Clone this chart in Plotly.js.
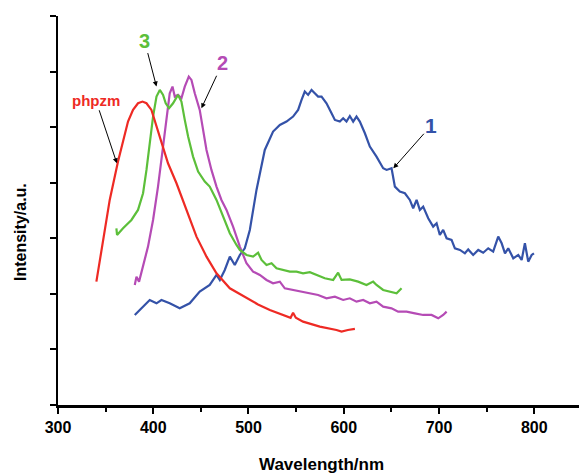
<!DOCTYPE html>
<html>
<head>
<meta charset="utf-8">
<script src="https://cdn.plot.ly/plotly-3.0.1.min.js"></script>
<style>html,body{margin:0;padding:0;background:#fff;}#chart{width:579px;height:475px;}</style>
</head>
<body>
<div id="chart"></div>
<script>
// phpzm (red)
const phpzmX = [340.3,347.3,354.3,363.0,368.3,373.5,378.8,384.0,388.7,392.9,398.1,403.4,408.6,415.5,424.4,434.9,445.4,455.9,466.4,480.4,497.9,510.0,522.4,539.9,544.2,546.8,549.7,557.3,574.9,592.4,597.7,604.3,611.7];
const phpzmY = [2.22,2.97,3.69,4.38,4.77,5.10,5.31,5.43,5.46,5.43,5.31,5.01,4.71,4.35,3.99,3.51,3.03,2.67,2.37,2.10,1.92,1.81,1.71,1.59,1.57,1.66,1.57,1.50,1.41,1.35,1.32,1.35,1.37];
// curve 3 (green)
const c3X = [361.3,362.0,368.3,377.1,384.0,389.3,392.9,396.3,399.8,403.4,406.9,410.3,413.1,416.6,420.8,426.0,429.6,433.1,436.6,441.8,447.1,454.1,459.3,466.4,473.3,480.4,487.4,490.9,497.9,504.8,510.1,513.7,518.9,524.2,529.4,536.3,543.4,550.4,557.3,564.4,571.4,580.1,588.9,594.1,597.7,606.4,615.1,623.9,630.9,634.4,641.4,650.2,655.5,660.7];
const c3Y = [3.18,3.06,3.18,3.33,3.51,3.81,4.23,4.71,5.19,5.55,5.67,5.58,5.43,5.34,5.43,5.58,5.46,5.13,4.83,4.47,4.20,4.02,3.93,3.69,3.39,3.09,2.88,2.79,2.70,2.67,2.74,2.61,2.52,2.55,2.46,2.43,2.40,2.40,2.37,2.39,2.34,2.28,2.25,2.38,2.25,2.26,2.22,2.16,2.22,2.16,2.07,2.04,2.01,2.10];
// curve 2 (magenta)
const c2X = [380.6,382.4,385.1,389.3,394.5,399.8,405.0,410.3,414.5,417.3,420.2,422.6,426.0,429.6,433.1,437.3,440.1,443.6,448.8,452.3,455.9,461.1,466.4,471.6,476.9,483.8,490.9,497.9,504.8,511.9,518.9,525.8,532.9,538.1,546.8,555.7,564.4,573.1,581.9,590.7,599.4,606.4,613.4,620.4,627.4,634.4,641.4,650.2,657.1,666.0,674.7,683.4,692.2,699.2,704.4,708.0];
const c2Y = [2.16,2.31,2.22,2.49,2.85,3.33,3.93,4.65,5.25,5.61,5.73,5.55,5.58,5.52,5.73,5.91,5.85,5.61,5.31,4.95,4.59,4.23,3.93,3.69,3.51,3.21,2.85,2.55,2.40,2.34,2.25,2.19,2.22,2.10,2.07,2.04,2.01,1.98,1.92,1.95,1.89,1.92,1.86,1.89,1.83,1.86,1.77,1.74,1.68,1.68,1.65,1.62,1.62,1.56,1.62,1.68];
// curve 1 (blue)
const c1X = [380.6,385.8,396.3,403.4,408.6,417.3,427.8,438.3,448.8,459.3,466.4,469.9,475.1,480.4,485.6,490.9,496.1,501.4,508.4,517.1,525.8,532.9,539.9,546.8,552.1,555.7,559.1,562.6,566.2,569.6,573.1,576.7,581.9,587.2,590.7,595.9,599.4,602.9,606.4,609.9,613.4,616.9,622.2,627.4,634.4,641.4,645.0,650.2,653.7,658.9,664.2,669.4,672.9,676.5,679.9,683.4,688.7,693.9,697.5,700.9,704.4,708.0,713.2,716.7,722.0,727.2,730.7,735.9,741.2,746.4,751.7,756.9,762.2,765.8,769.3,772.7,778.0,783.2,786.8,790.2,793.7,797.3,799.7];
const c1Y = [1.62,1.71,1.89,1.83,1.89,1.83,1.74,1.83,2.04,2.16,2.34,2.25,2.43,2.67,2.52,2.70,2.82,3.15,3.87,4.59,4.92,5.04,5.10,5.19,5.31,5.49,5.64,5.58,5.67,5.61,5.55,5.55,5.43,5.25,5.13,5.10,5.16,5.10,5.20,5.10,5.19,5.10,4.89,4.65,4.47,4.26,4.23,4.26,3.93,3.84,3.81,3.69,3.54,3.69,3.51,3.57,3.36,3.21,3.27,3.06,3.15,3.00,2.97,2.82,2.79,2.73,2.80,2.70,2.79,2.74,2.82,2.76,3.03,2.91,2.73,2.82,2.64,2.70,2.61,2.91,2.58,2.70,2.73];

const xTickVals = [300,400,500,600,700,800];
const xTickText = ['300','400','500','600','700','800'];

const colors = {red:'#ee2a24', green:'#5cbf3a', magenta:'#b54bb5', blue:'#3452a8'};
const lw = 2.2;

const traces = [
  {x:c1X, y:c1Y, mode:'lines', line:{color:colors.blue, width:lw}},
  {x:c2X, y:c2Y, mode:'lines', line:{color:colors.magenta, width:lw}},
  {x:c3X, y:c3Y, mode:'lines', line:{color:colors.green, width:lw}},
  {x:phpzmX, y:phpzmY, mode:'lines', line:{color:colors.red, width:lw}}
];

const F = 'Liberation Sans, Arial, sans-serif';
const arrowBase = {showarrow:true, arrowhead:2, arrowsize:1, arrowwidth:1, arrowcolor:'#000', xref:'x', yref:'y', axref:'pixel', ayref:'pixel'};

const layout = {
  width:579, height:475,
  margin:{l:58, r:0, t:16, b:70},
  paper_bgcolor:'#fff', plot_bgcolor:'#fff',
  showlegend:false,
  xaxis:{
    range:[300,847], showgrid:false, zeroline:false,
    showline:true, linecolor:'#000', linewidth:2.5,
    ticks:'outside', ticklen:6, tickwidth:2, tickcolor:'#000',
    tickvals:xTickVals, ticktext:xTickText.map(t => '<b>' + t + '</b>'),
    tickfont:{family:F, size:16, color:'#000'},
    minor:{tickvals:[350,450,550,650,750,850], ticks:'outside', ticklen:4, tickwidth:2, tickcolor:'#000'}
  },
  yaxis:{
    range:[0,7], showgrid:false, zeroline:false,
    showline:true, linecolor:'#000', linewidth:2.5,
    ticks:'outside', ticklen:6, tickwidth:2, tickcolor:'#000',
    tickvals:[0,1,2,3,4,5,6,7], showticklabels:false
  },
  annotations:[
    Object.assign({}, arrowBase, {x:361.8, y:4.35, ax:-21, ay:-63, text:'<b>phpzm</b>', font:{family:F, size:15, color:colors.red}}),
    Object.assign({}, arrowBase, {x:403.4, y:5.73, ax:-12, ay:-46, text:'<b>3</b>', font:{family:F, size:20, color:colors.green}}),
    Object.assign({}, arrowBase, {x:450.6, y:5.34, ax:21, ay:-45, text:'<b>2</b>', font:{family:F, size:20, color:colors.magenta}}),
    Object.assign({}, arrowBase, {x:652.1, y:4.26, ax:38, ay:-43, text:'<b>1</b>', font:{family:F, size:21, color:colors.blue}}),
    {xref:'paper', yref:'paper', x:(321-58)/521, y:-(464-405)/389, xanchor:'center', yanchor:'middle', showarrow:false,
     text:'<b>Wavelength/nm</b>', font:{family:F, size:17, color:'#000'}},
    {xref:'paper', yref:'paper', x:-(58-21)/521, y:(405-232)/389, xanchor:'center', yanchor:'middle', showarrow:false, textangle:-90,
     text:'<b>Intensity/a.u.</b>', font:{family:F, size:16, color:'#000'}}
  ]
};

Plotly.newPlot('chart', traces, layout, {staticPlot:true, displayModeBar:false});
</script>
</body>
</html>
